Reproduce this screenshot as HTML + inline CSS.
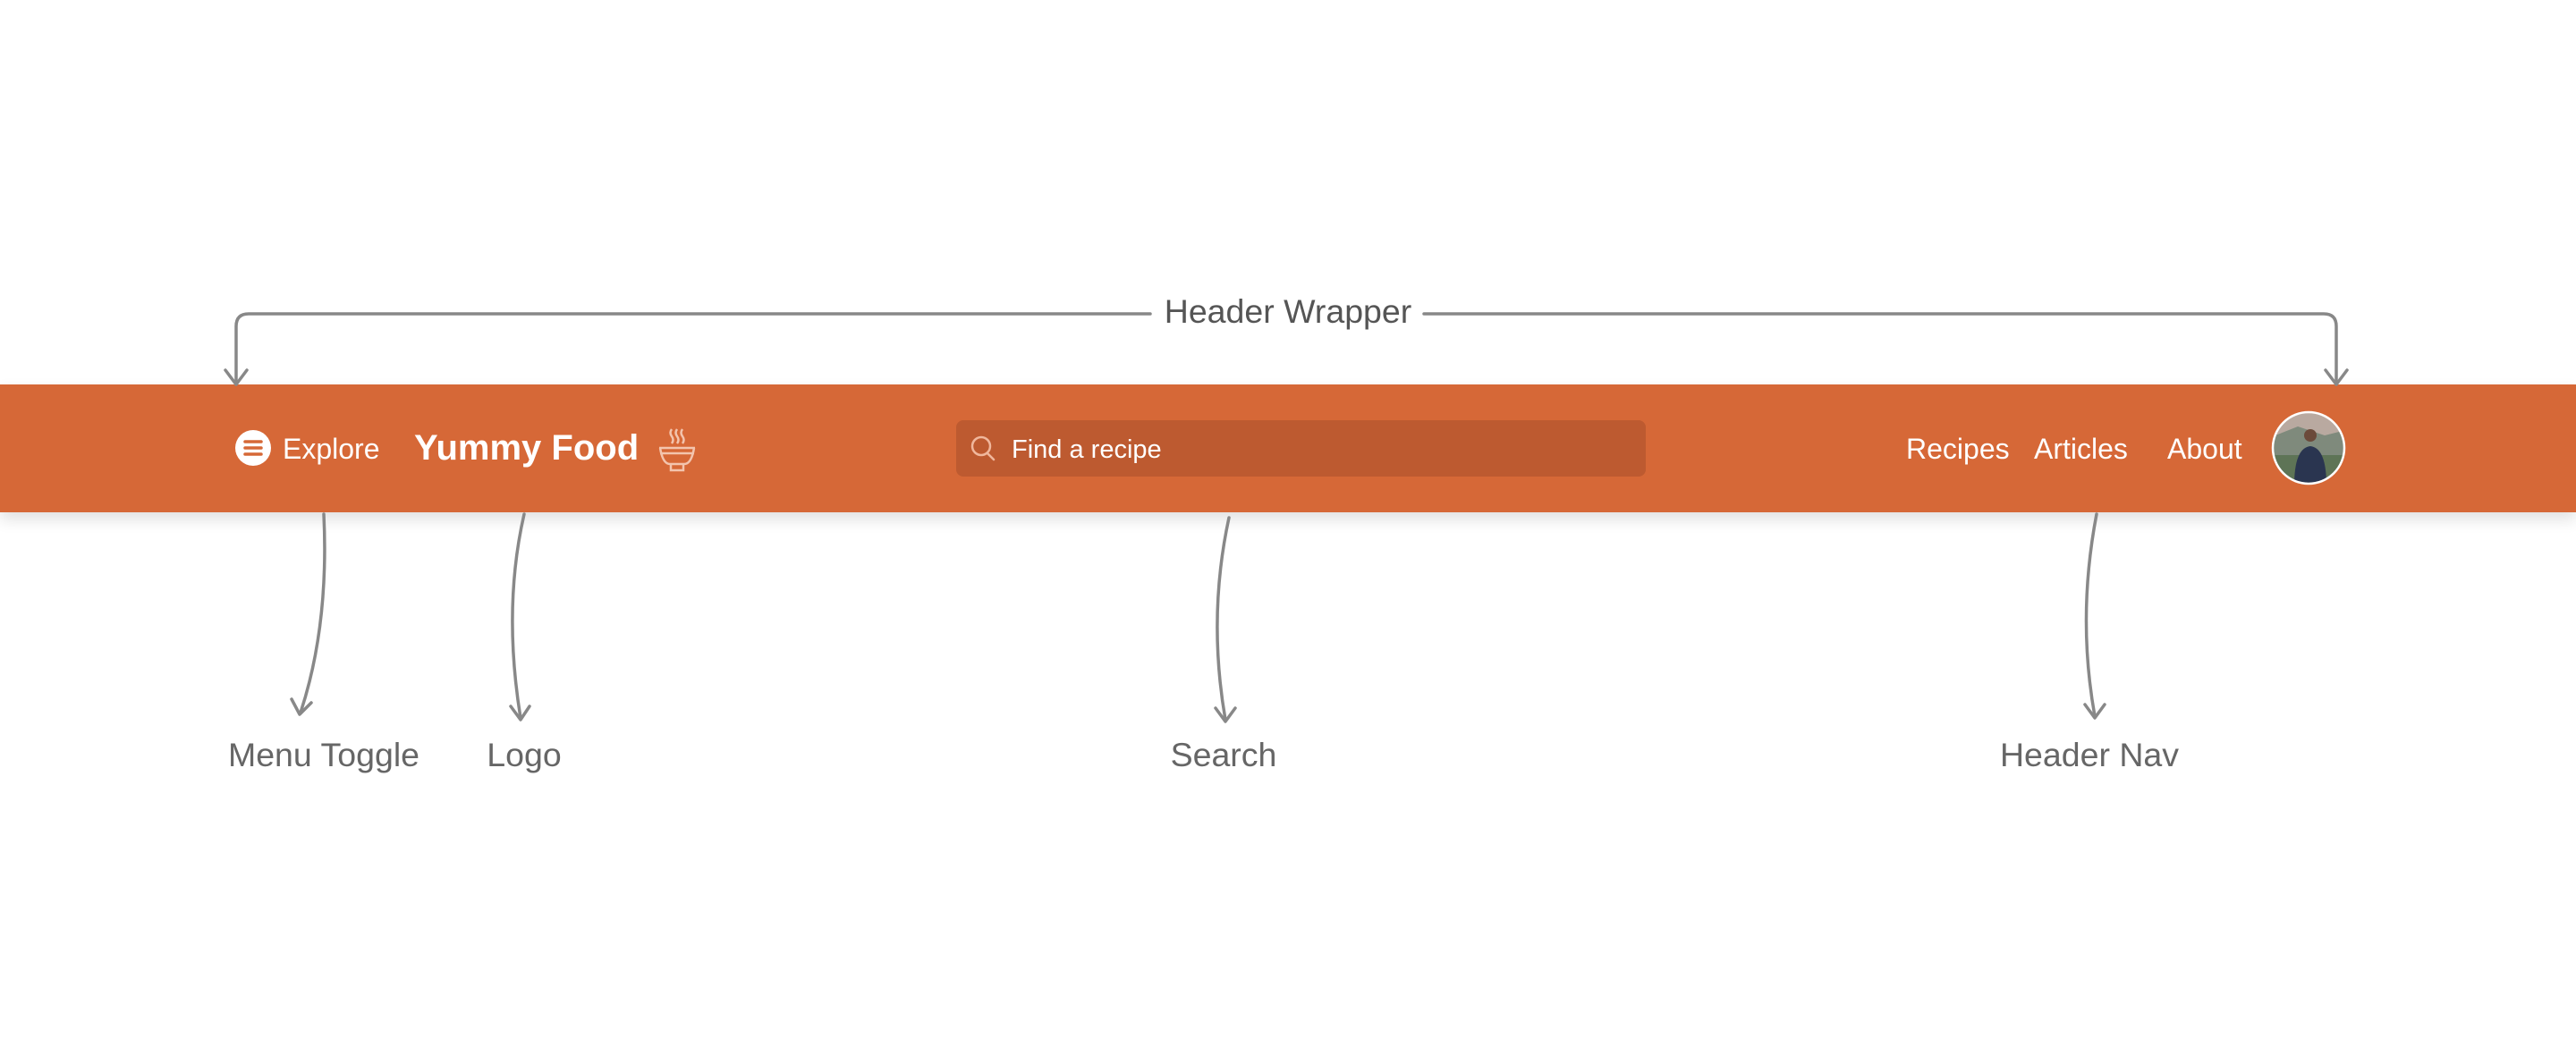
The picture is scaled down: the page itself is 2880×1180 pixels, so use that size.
<!DOCTYPE html>
<html><head><meta charset="utf-8"><style>
html,body{margin:0;padding:0;width:2880px;height:1180px;background:#fff;overflow:hidden;font-family:"Liberation Sans",sans-serif}
.bar{position:absolute;left:0;top:430px;width:2880px;height:143px;background:#d66837;box-shadow:0 8px 16px rgba(0,0,0,0.12)}
.t{position:absolute;color:#fff;white-space:nowrap}
.lbl{position:absolute;color:#666;font-size:37.5px;transform:translateX(-50%);white-space:nowrap;top:823px}
</style></head><body>
<div class="bar"></div>
<svg width="2880" height="1180" style="position:absolute;left:0;top:0" fill="none" stroke="#888" stroke-width="3.5" stroke-linecap="round" stroke-linejoin="round">
<path d="M1286 351 H278 Q264 351 264 365 V428"/>
<path d="M252 414 L264 430 L276 414"/>
<path d="M1592 351 H2598 Q2612 351 2612 365 V428"/>
<path d="M2600 414 L2612 430 L2624 414"/>
<path d="M362 575 Q368 700 336 797"/><path d="M326 782 L335 799 L348 786"/>
<path d="M586 575 Q562 680 582 803"/><path d="M571 790 L582 805 L592 790"/>
<path d="M1374 579 Q1350 690 1370 805"/><path d="M1359 792 L1370 807 L1381 792"/>
<path d="M2344 575 Q2322 690 2342 801"/><path d="M2331 788 L2342 803 L2353 788"/>
</svg>
<div class="lbl" style="left:1440px;top:327px;color:#555">Header Wrapper</div>
<svg style="position:absolute;left:263px;top:481px" width="40" height="40"><circle cx="20" cy="20" r="20" fill="#fff"/><g stroke="#d66837" stroke-width="3.5" stroke-linecap="round"><path d="M11 13H29M11 20H29M11 27H29"/></g></svg>
<div class="t" style="left:316px;top:484px;font-size:32px">Explore</div>
<div class="t" style="left:463px;top:479px;font-size:40px;font-weight:bold">Yummy Food</div>
<svg style="position:absolute;left:733px;top:477px" width="48" height="52" fill="none" stroke="#f3c4ad" stroke-width="2.5"><path d="M18 3q-3 4 0 8t0 8M24 3q-3 4 0 8t0 8M30 3q-3 4 0 8t0 8"/><path d="M4 24H44M5 30H43M5 24Q8 42 16 42H32Q40 42 43 24M17 42V49H31V42"/></svg>
<div style="position:absolute;left:1069px;top:470px;width:771px;height:63px;background:#bd5a30;border-radius:8px"></div>
<svg style="position:absolute;left:1084px;top:486px" width="32" height="32" fill="none" stroke="#f0b79c" stroke-width="2.5"><circle cx="13" cy="13" r="10"/><path d="M20 21L27 28" stroke-linecap="round"/></svg>
<div class="t" style="left:1131px;top:487px;font-size:29px">Find a recipe</div>
<div class="t" style="left:2131px;top:484px;font-size:32px">Recipes</div>
<div class="t" style="left:2274px;top:484px;font-size:32px">Articles</div>
<div class="t" style="left:2423px;top:484px;font-size:32px">About</div>
<svg style="position:absolute;left:2539px;top:459px" width="84" height="84"><defs><clipPath id="c"><circle cx="42" cy="42" r="39"/></clipPath></defs><g clip-path="url(#c)"><rect width="84" height="84" fill="#b9a9a0"/><path d="M0 30 L30 18 L60 28 L84 22 V84 H0Z" fill="#7f8a7c"/><rect y="50" width="84" height="34" fill="#5e7456"/><circle cx="44" cy="28" r="7" fill="#6b4a3a"/><path d="M26 84 Q26 42 44 40 Q62 42 62 84Z" fill="#2a3550"/></g><circle cx="42" cy="42" r="40" fill="none" stroke="#fff" stroke-width="2.5"/></svg>
<div class="lbl" style="left:362px">Menu Toggle</div>
<div class="lbl" style="left:586px">Logo</div>
<div class="lbl" style="left:1368px">Search</div>
<div class="lbl" style="left:2336px">Header Nav</div>
</body></html>
